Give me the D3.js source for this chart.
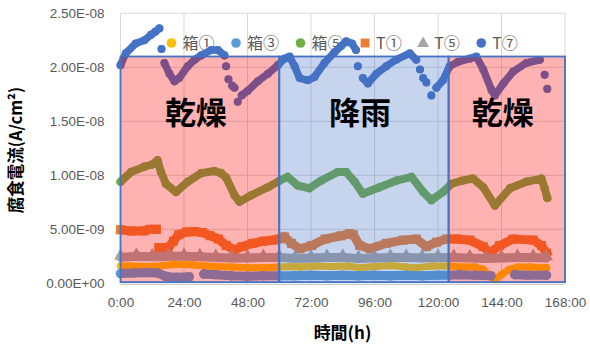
<!DOCTYPE html>
<html>
<head>
<meta charset="utf-8">
<script src="https://cdn.jsdelivr.net/npm/d3@7"></script>
<style>
  body { margin: 0; background: #fff; }
  text { font-family: "Noto Sans CJK JP", "Noto Sans", sans-serif; }
</style>
</head>
<body>
<svg id="chart" width="590" height="346"></svg>
<script>
// Corrosion current, in units of 1e-9 A/cm², against elapsed time in hours.
const xTicks = [0, 24, 48, 72, 96, 120, 144, 168];
const yTicks = [0, 5, 10, 15, 20, 25];
const UNIT = 1e-9;

// Weather periods shaded across the plot (upper edge in 1e-9 A/cm²)
const periodLabels = ["乾燥", "降雨", "乾燥"];
const periodStart  = [0, 60, 124];
const periodEnd    = [60, 124, 168];
const periodTop    = 21;
const periodFill   = ["#FF0000", "#4472C4", "#FF0000"];

const seriesNames  = ["箱①", "箱③", "箱⑤", "T①", "T⑤", "T⑦"];
const seriesColors = ["#FFC000", "#5B9BD5", "#70AD47", "#ED7D31", "#A5A5A5", "#4472C4"];
const seriesShapes = ["circle", "circle", "circle", "square", "triangle", "circle"];

// [hour, value]; null marks a break between plotted runs
const box1 = [[0,1.6],[4,1.6],[8,1.55],[12,1.55],[16,1.65],[20,1.75],[24,1.75],[28,1.7],[32,1.6],[36,1.55],
  [42,1.5],[48,1.45],[54,1.45],[60,1.5],[64,1.55],[68,1.5],[74,1.6],[80,1.55],[86,1.6],[90,1.45],[96,1.55],
  [102,1.65],[108,1.5],[112,1.45],[118,1.6],[124,1.6],[130,1.5],[134,1.5],[137,1.3],[139,0.8],[141.5,0.35],
  [144,0.8],[147,1.3],[150,1.5],[155,1.5],[161,1.45]];

const box3 = [[0,0.9],[5,0.95],[10,1.0],[14,0.95],[17,0.65],[21,0.55],[26,0.6],null,[31.5,0.85],[36,0.8],
  [42,0.7],[48,0.65],[54,0.7],[60,0.7],[66,0.7],[72,0.75],[78,0.7],[84,0.75],[90,0.7],[96,0.75],[102,0.7],
  [108,0.75],[114,0.7],[120,0.75],[124,0.75],[128,0.8],[134,0.75],[140,0.7],null,[149,0.8],[154,0.75],[161,0.75]];

const box5 = [[0,9.4],[4,10.3],[9,10.8],[12,11.0],[14,11.4],[15.3,10.3],[17.2,9.2],[21,8.45],[25.4,9.4],
  [30.5,10.2],[35.5,10.4],[38,10.2],[39.9,9.8],[43.1,8.15],[45,7.55],[49.4,8.15],[55.7,8.9],[60.1,9.5],
  [63.2,9.85],[67,9.05],[71.4,8.8],[75.8,9.5],[82.1,10.3],[85.3,10.3],[88.5,9.4],[91.6,8.3],[97.9,8.9],
  [104.2,9.5],[110,9.85],[114.4,8.45],[117.5,7.7],[121.9,8.45],[125,9.2],[129,9.5],[133.2,9.7],[137.1,8.9],
  [141.5,7.2],[147.2,8.8],[153.4,9.4],[159.1,9.7],[160.3,8.8],[161.3,7.9]];

const t1 = [[0,4.95],[4,4.85],[9,4.85],[11,5.0],[13.5,5.0],null,[14.5,3.3],[18,3.3],[20,3.9],[22,4.5],[25,4.75],
  [28,4.8],[31,4.7],[34,4.4],[37,4.1],[40,3.5],[43,3.1],[46,3.4],[50,3.7],[54,3.9],[58,4.0],[60,4.1],[62,4.3],
  [64.6,3.7],[67.8,3.2],[72.3,3.5],[77.3,4.1],[83.4,4.4],[86.6,4.6],[88,4.5],[90.4,3.5],[94.3,3.2],[100.5,3.7],
  [106.8,4.0],[111.8,4.1],[115.6,3.4],[119.4,3.8],[123.2,4.1],[127,4.1],[132,4.0],[137.1,3.4],[139.6,2.8],
  [143.3,3.5],[148.4,4.1],[156,4.0],[159.1,3.5],[161,2.8]];

const t5 = [[0,2.4],[6,2.5],[12,2.45],[18,2.5],[24,2.5],[30,2.45],[36,2.4],[42,2.35],[48,2.35],[54,2.4],
  [60,2.4],[66,2.3],[72,2.35],[78,2.4],[84,2.4],[90,2.3],[96,2.35],[102,2.4],[108,2.4],[114,2.35],[120,2.4],
  [126,2.4],[132,2.35],[138,2.3],[144,2.35],[150,2.4],[156,2.4],[161,2.35]];

const t7 = [[0,20.2],[2,21.3],[5.7,22.2],[9,22.5],[11.5,23.0],[13.2,23.3],[14.7,23.6],null,[15.5,21.7],null,
  [16.6,20.4],[18.5,19.4],[20.4,18.7],[22.2,19.0],[25.4,20.1],[28,20.7],[30.5,21.1],[34.3,21.6],[36.8,21.6],
  [39.3,21.1],null,[39.9,20.1],null,[40.8,18.9],null,[42.2,18.3],[43.1,18.1],null,[44.3,16.8],null,[45.8,17.4],
  [48,17.8],[51.9,18.7],[55.7,19.4],[59.5,20.2],[62,20.8],[63.9,21.0],[65.8,20.1],[67.7,19.0],[70.8,18.8],
  [73.3,19.1],[77.1,20.4],[80.9,21.4],[83.5,22.0],[85.3,22.4],[87.5,22.2],[89,21.6],null,[89.7,20.1],null,
  [91.6,19.0],[93.5,18.5],[96.7,19.4],[100.5,20.1],[104.2,20.7],[109.3,21.3],[111.8,20.7],null,[113.2,19.8],null,
  [114.4,19.0],null,[115.6,18.6],null,[117.5,17.4],null,[119.4,18.1],[121.9,18.8],[124.4,20.1],[127.6,20.5],
  [132,20.8],[134.5,21.0],[137.1,19.8],[140.2,17.9],[141.5,17.4],[144.7,18.5],[148.4,19.6],[153.4,20.4],
  [158.5,20.7],null,[160.3,19.3],null,[161.3,18.0]];

const seriesData = [box1, box3, box5, t1, t5, t7];
const seriesWidth = [7, 9, 8, 9, 9, 7.5];

const svg = d3.select("#chart");
const x = d3.scaleLinear().domain([0, 168]).range([120.5, 565]);
const y = d3.scaleLinear().domain([0, 25]).range([283.3, 13.3]);

function sci(v) {
  const a = v * UNIT;
  if (a === 0) return "0.00E+00";
  const e = Math.floor(Math.log10(a) + 1e-9);
  const m = a / Math.pow(10, e);
  return m.toFixed(2) + "E" + (e < 0 ? "-" : "+") + String(Math.abs(e)).padStart(2, "0");
}

// gridlines
const grid = svg.append("g");
grid.selectAll("line.h").data(yTicks.filter(d => d > 0)).join("line")
  .attr("x1", x(0)).attr("x2", x(168)).attr("y1", d => y(d)).attr("y2", d => y(d))
  .attr("stroke", "#D9D9D9").attr("stroke-width", 1);
grid.selectAll("line.v").data(xTicks).join("line")
  .attr("x1", d => x(d)).attr("x2", d => x(d)).attr("y1", y(0)).attr("y2", y(25))
  .attr("stroke", "#D9D9D9").attr("stroke-width", 1);

// axis labels
const yAxis = d3.axisLeft(y).tickValues(yTicks).tickFormat(sci).tickSize(0).tickPadding(16);
svg.append("g").attr("transform", `translate(${x(0)},0)`).call(yAxis)
  .call(g => g.select(".domain").remove())
  .selectAll("text").attr("fill", "#595959").attr("font-size", 13.5)
  .style("font-family", '"Liberation Sans", Arial, sans-serif');

const xAxis = d3.axisBottom(x).tickValues(xTicks).tickFormat(d => d + ":00").tickSize(0).tickPadding(14);
svg.append("g").attr("transform", `translate(0,${y(0)})`).call(xAxis)
  .call(g => g.select(".domain").remove())
  .selectAll("text").attr("fill", "#595959").attr("font-size", 13.5)
  .style("font-family", '"Liberation Sans", Arial, sans-serif');

// legend
const legend = svg.append("g");
let lx = 167;
const ly = 43;
seriesNames.forEach((name, i) => {
  const g = legend.append("g");
  const cx = lx + 4.5;
  const sym = seriesShapes[i] === "square" ? d3.symbolSquare
            : seriesShapes[i] === "triangle" ? d3.symbolTriangle : d3.symbolCircle;
  const size = seriesShapes[i] === "square" ? 78 : seriesShapes[i] === "triangle" ? 62 : 72;
  g.append("path").attr("d", d3.symbol(sym, size)())
    .attr("transform", `translate(${cx},${ly + (seriesShapes[i] === "triangle" ? 0.5 : 0)})`)
    .attr("fill", seriesColors[i]);
  const t = g.append("text").attr("x", lx + 15.5).attr("y", ly).attr("dy", "0.36em")
    .attr("font-size", 16).attr("fill", "#595959").text(name);
  lx = lx + 15.5 + t.node().getComputedTextLength() + 17;
});

// series
const line = d3.line().defined(d => d !== null).x(d => x(d[0])).y(d => y(d[1]));
const plot = svg.append("g");
seriesData.forEach((data, i) => {
  const w = seriesWidth[i];
  const shape = seriesShapes[i];
  plot.append("path").datum(data).attr("d", line)
    .attr("fill", "none").attr("stroke", seriesColors[i]).attr("stroke-width", w)
    .attr("stroke-linecap", shape === "square" ? "square" : "round")
    .attr("stroke-linejoin", shape === "square" ? "miter" : "round");
  const pts = data.filter(d => d !== null);
  if (shape === "circle") {
    plot.append("g").selectAll("circle").data(pts).join("circle")
      .attr("cx", d => x(d[0])).attr("cy", d => y(d[1])).attr("r", w / 2 + 0.3)
      .attr("fill", seriesColors[i]);
  } else {
    const sym = shape === "square" ? d3.symbolSquare : d3.symbolTriangle;
    const size = shape === "square" ? w * w : w * w * 0.9;
    plot.append("g").selectAll("path").data(pts).join("path")
      .attr("d", d3.symbol(sym, size)())
      .attr("transform", d => `translate(${x(d[0])},${y(d[1]) - (shape === "triangle" ? 1.5 : 0)})`)
      .attr("fill", seriesColors[i]);
  }
});

// shaded weather periods over the data
const shade = svg.append("g");
periodLabels.forEach((lab, i) => {
  shade.append("rect")
    .attr("x", x(periodStart[i])).attr("y", y(periodTop))
    .attr("width", x(periodEnd[i]) - x(periodStart[i]))
    .attr("height", y(0) - y(periodTop) - 1.2)
    .attr("fill", periodFill[i]).attr("fill-opacity", 0.3)
    .attr("stroke", "#4472C4").attr("stroke-width", 1.8);
});
periodLabels.forEach((lab, i) => {
  shade.append("text")
    .attr("x", (x(periodStart[i]) + x(periodEnd[i])) / 2 - 4)
    .attr("y", 113).attr("dy", "0.35em")
    .attr("text-anchor", "middle").attr("font-size", 31).attr("font-weight", "bold")
    .attr("fill", "#000").text(lab);
});

// baseline
svg.append("line").attr("x1", x(0)).attr("x2", x(168)).attr("y1", y(0) + 1).attr("y2", y(0) + 1)
  .attr("stroke", "#BFBFBF").attr("stroke-width", 1);

// axis titles
svg.append("text").attr("transform", "translate(16,150) rotate(-90)")
  .attr("text-anchor", "middle").attr("dy", "0.35em")
  .attr("font-size", 16.5).attr("font-weight", "bold").attr("fill", "#000")
  .text("腐食電流(A/cm²)");
svg.append("text").attr("x", 342.5).attr("y", 333).attr("dy", "0.35em")
  .attr("text-anchor", "middle").attr("font-size", 17).attr("font-weight", "bold").attr("fill", "#000")
  .text("時間(h)");
</script>
</body>
</html>
